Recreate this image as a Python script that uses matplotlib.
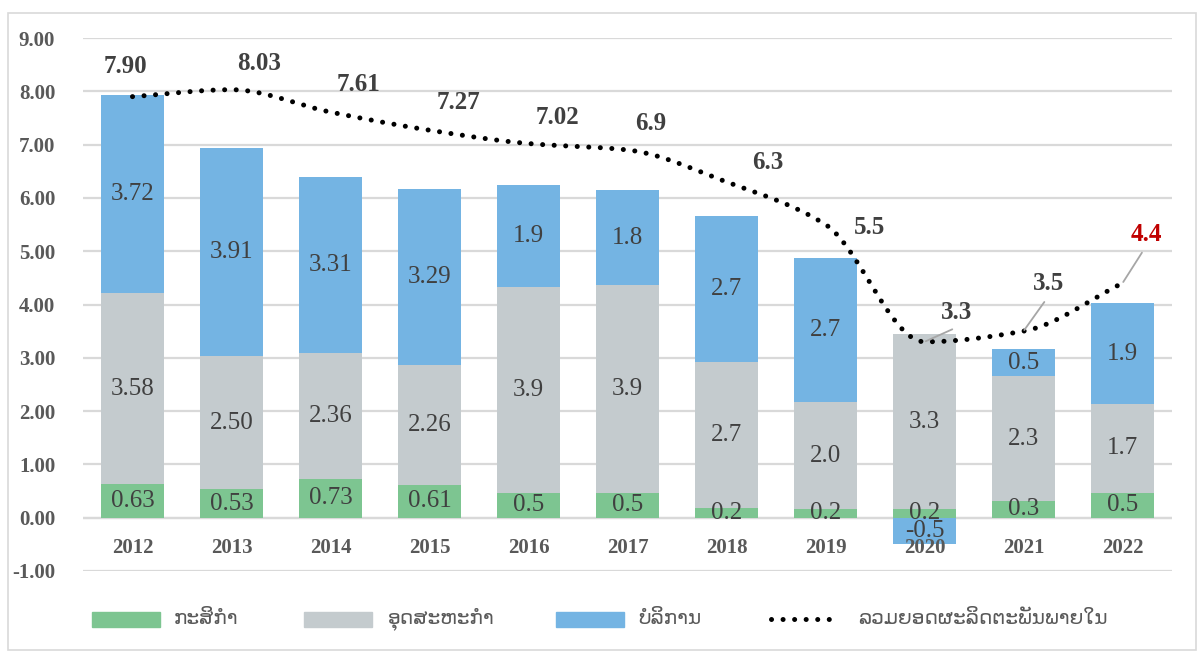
import numpy as np
import matplotlib
matplotlib.use("Agg")
import matplotlib.pyplot as plt
from matplotlib.patches import Rectangle
from matplotlib.lines import Line2D

years = ["2012", "2013", "2014", "2015", "2016", "2017", "2018", "2019", "2020", "2021", "2022"]
agri = [0.63, 0.53, 0.73, 0.61, 0.46, 0.46, 0.19, 0.16, 0.16, 0.32, 0.46]
industry = [3.58, 2.50, 2.36, 2.26, 3.86, 3.90, 2.74, 2.01, 3.28, 2.33, 1.68]
services = [3.72, 3.91, 3.31, 3.29, 1.92, 1.79, 2.73, 2.71, -0.49, 0.51, 1.88]
gdp = [7.90, 8.03, 7.61, 7.27, 7.02, 6.9, 6.3, 5.5, 3.3, 3.5, 4.4]
decimals = [2, 2, 2, 2, 1, 1, 1, 1, 1, 1, 1]
gdp_decimals = [2, 2, 2, 2, 2, 1, 1, 1, 1, 1, 1]
yticks = [-1, 0, 1, 2, 3, 4, 5, 6, 7, 8, 9]
legend_labels = ["ກະສິກຳ", "ອຸດສະຫະກຳ", "ບໍລິການ", "ລວມຍອດຜະລິດຕະພັນພາຍໃນ"]

c_green = "#7DC591"
c_gray = "#C4CBCE"
c_blue = "#74B4E3"
serif = ["Liberation Serif", "DejaVu Serif"]
lao = ["DejaVu Sans", "Noto Sans"]

W, H = 1198, 652
fig = plt.figure(figsize=(W / 100, H / 100), dpi=100)
ax = fig.add_axes([83 / W, 1 - 571 / H, (1172 - 83) / W, (571 - 38) / H])

x = np.arange(len(years))
agri_a = np.array(agri)
ind_a = np.array(industry)
ser_a = np.array(services)
bw = 0.63
ax.bar(x, agri_a, bw, color=c_green, zorder=2)
ax.bar(x, ind_a, bw, bottom=agri_a, color=c_gray, zorder=2)
ser_bottom = np.where(ser_a >= 0, agri_a + ind_a, 0)
ax.bar(x, ser_a, bw, bottom=ser_bottom, color=c_blue, zorder=2)

def fmt(v, d):
    return f"{v:.{d}f}"

for i in range(len(years)):
    d = decimals[i]
    for val, ctr in ((agri_a[i], agri_a[i] / 2),
                     (ind_a[i], agri_a[i] + ind_a[i] / 2),
                     (ser_a[i], ser_bottom[i] + ser_a[i] / 2)):
        ax.text(x[i], ctr, fmt(val, d), ha="center", va="center",
                fontsize=18, color="#404040", family=serif, zorder=4)

# smooth rendering of the GDP line (monotone cubic Hermite through the points)
g = np.array(gdp, dtype=float)
xf = x.astype(float)
h = np.diff(xf)
delta = np.diff(g) / h
m = np.zeros_like(g)
for k in range(1, len(g) - 1):
    if delta[k - 1] * delta[k] > 0:
        w1 = 2 * h[k] + h[k - 1]
        w2 = h[k] + 2 * h[k - 1]
        m[k] = (w1 + w2) / (w1 / delta[k - 1] + w2 / delta[k])
m[0] = delta[0]
m[-1] = delta[-1]
sx, sy = [], []
tt = np.linspace(0, 1, 40, endpoint=False)
for k in range(len(g) - 1):
    h00 = 2 * tt ** 3 - 3 * tt ** 2 + 1
    h10 = tt ** 3 - 2 * tt ** 2 + tt
    h01 = -2 * tt ** 3 + 3 * tt ** 2
    h11 = tt ** 3 - tt ** 2
    sx.extend(xf[k] + tt * h[k])
    sy.extend(h00 * g[k] + h10 * h[k] * m[k] + h01 * g[k + 1] + h11 * h[k] * m[k + 1])
sx.append(xf[-1]); sy.append(g[-1])
dot_style = (0, (0.01, 2.3))
ax.plot(sx, sy, color="black", lw=3.6, linestyle=dot_style,
        dash_capstyle="round", zorder=5)

# GDP labels (offsets in points)
offs = [(-5, 22), (20, 19), (20, 20), (21, 20), (21, 19), (17, 19), (30, 14), (32, -2),
        (23, 21), (18, 34), (17, 35)]
leader_end = [None] * 8 + [(20, 9), (15, 21), (14, 22)]
for i in range(len(years)):
    col = "#C00000" if i == len(years) - 1 else "#404040"
    dx, dy = offs[i]
    ax.annotate(fmt(g[i], gdp_decimals[i]), xy=(x[i], g[i]), xytext=(dx, dy),
                textcoords="offset points", ha="center", va="center", fontsize=18,
                fontweight="bold", color=col, family=serif, zorder=6)
    if leader_end[i] is not None:
        ax.annotate("", xy=(x[i], g[i]), xytext=leader_end[i], textcoords="offset points",
                    arrowprops=dict(arrowstyle="-", color="#A6A6A6", lw=1.3,
                                    shrinkA=0, shrinkB=1), zorder=6)

ax.set_xlim(-0.5, len(years) - 0.5)
ax.set_ylim(-1, 9)
ax.set_yticks(yticks)
ax.set_yticklabels([f"{v:.2f}" for v in yticks], family=serif, fontsize=15,
                   fontweight="bold", color="#595959")
ax.tick_params(axis="y", length=0, pad=20)
ax.set_xticks([])
for i, yr in enumerate(years):
    ax.text(x[i], -0.57, yr, ha="center", va="center", family=serif, fontsize=15,
            fontweight="bold", color="#595959", zorder=3)
ax.grid(axis="y", color="#D9D9D9", lw=1.6, zorder=0)
for s in ax.spines.values():
    s.set_visible(False)
ax.axhline(0, color="#D9D9D9", lw=1.6, zorder=1)

# legend, laid out item by item (figure pixel positions)
ly = 1 - 619 / H
items = [(92, 160, c_green, 174), (304, 372, c_gray, 388), (556, 624, c_blue, 638)]
for (x0, x1, col, tx), lab in zip(items, legend_labels[:3]):
    fig.patches.append(Rectangle((x0 / W, 1 - 627 / H), (x1 - x0) / W, 15 / H,
                                 transform=fig.transFigure, color=col))
    fig.text(tx / W, ly, lab, ha="left", va="center", family=lao, fontsize=14.5,
             color="#595959")
fig.lines.append(Line2D([771 / W, 840 / W], [ly, ly], transform=fig.transFigure,
                        color="black", lw=3.6, linestyle=dot_style, dash_capstyle="round"))
fig.text(858 / W, ly, legend_labels[3], ha="left", va="center", family=lao, fontsize=14.5,
         color="#595959")

fig.patches.append(Rectangle((8 / W, 1 - 650 / H), (1196 - 8) / W, (650 - 13) / H,
                             transform=fig.transFigure, fill=False, edgecolor="#D9D9D9",
                             lw=1.2))
fig.savefig("out.png", dpi=100)
